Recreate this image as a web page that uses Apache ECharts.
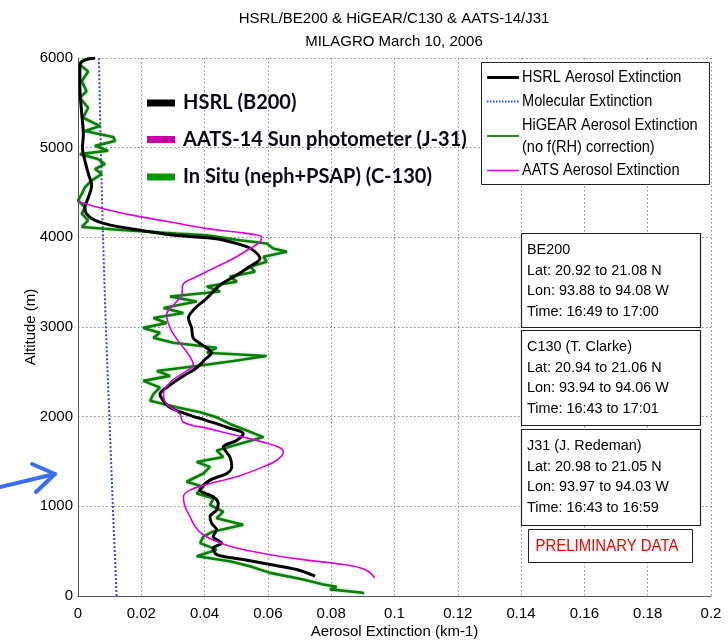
<!DOCTYPE html>
<html>
<head>
<meta charset="utf-8">
<script src="https://cdn.jsdelivr.net/npm/echarts@6/dist/echarts.min.js"></script>
<style>
html,body{margin:0;padding:0;background:#fff;}
#chart{width:728px;height:644px;}
</style>
</head>
<body>
<div id="chart"></div>
<script>
// ---------- data (extinction km-1, altitude m) ----------
const xTicks = [0, 0.02, 0.04, 0.06, 0.08, 0.1, 0.12, 0.14, 0.16, 0.18, 0.2];
const yTicks = [0, 1000, 2000, 3000, 4000, 5000, 6000];

const molAlt = [0, 1000, 2000, 3000, 4000, 5000, 6000];
const molExt = [0.0122, 0.0110, 0.0099, 0.0088, 0.0079, 0.0072, 0.0066];

const hsrlAlt = [6000, 5978, 5923, 5668, 5369, 5148, 5000, 4852, 4705, 4576, 4447, 4336, 4262, 4188, 4133, 4077, 4022,
  3985, 3897, 3842, 3764, 3675, 3579, 3469, 3321, 3210, 3100, 2989, 2878, 2804, 2712, 2638, 2546, 2454, 2325, 2251,
  2177, 2103, 2029, 1956, 1882, 1808, 1735, 1661, 1550, 1440, 1366, 1292, 1181, 1107, 1033, 960, 886, 812, 738, 664,
  590, 535, 461, 406, 351, 295, 221];
const hsrlExt = [0.0054, 0.0022, 0.0006, 0.0006, 0.0012, 0.0017, 0.0014, 0.0022, 0.0033, 0.0043, 0.0033, 0.0022, 0.0027,
  0.0054, 0.0106, 0.0201, 0.0306,
  0.0438, 0.0533, 0.0559, 0.0575, 0.0543, 0.0501, 0.0449, 0.0407, 0.0370, 0.0349, 0.0359, 0.0364, 0.0391, 0.0422,
  0.0401, 0.0375, 0.0333, 0.0280, 0.0259, 0.0270, 0.0291, 0.0343, 0.0407, 0.0470, 0.0522, 0.0501, 0.0459, 0.0480,
  0.0486, 0.0470, 0.0417, 0.0385, 0.0427, 0.0443, 0.0438, 0.0417, 0.0422, 0.0438, 0.0427, 0.0454, 0.0427, 0.0438,
  0.0522, 0.0607, 0.0691, 0.0749];

const aatsAlt = [4400, 4319, 4245, 4171, 4097, 4059, 4030, 4004, 3949, 3875, 3764, 3653, 3543, 3469, 3358, 3284, 3136,
  2989, 2842, 2694, 2583, 2510, 2399, 2251, 2140, 2029, 1938, 1864, 1790, 1716, 1661, 1606, 1514, 1440, 1329, 1255,
  1181, 1107, 997, 886, 775, 683, 609, 535, 461, 406, 351, 295, 203];
const aatsExt = [0.0, 0.0080, 0.0175, 0.0291, 0.0407, 0.0500, 0.0558, 0.0580, 0.0575, 0.0543, 0.0491, 0.0427, 0.0364,
  0.0331, 0.0328, 0.0312, 0.0280, 0.0291, 0.0317, 0.0349, 0.0364, 0.0343, 0.0296, 0.0270, 0.0280, 0.0322, 0.0333,
  0.0417, 0.0501, 0.0585, 0.0633, 0.0649, 0.0628, 0.0585, 0.0501, 0.0417, 0.0354, 0.0333, 0.0338, 0.0354, 0.0370,
  0.0396, 0.0438, 0.0501, 0.0607, 0.0712, 0.0838, 0.0907, 0.0938];

const gearAlt = [6000, 5960, 5925, 5850, 5740, 5630, 5556, 5445, 5334, 5241, 5186, 5120, 5075, 5020, 4965, 4928, 4873,
  4817, 4762, 4706, 4632, 4559, 4485, 4411, 4338, 4264, 4190, 4116, 4079, 4042,
  4024, 3968, 3931, 3876, 3839, 3784, 3728, 3673, 3617, 3562, 3506, 3451, 3396, 3340, 3285, 3211, 3156, 3100, 3045,
  2990, 2935, 2879, 2824, 2768, 2713, 2677, 2621, 2566, 2510, 2455, 2399, 2325, 2251, 2178, 2104, 2049, 1993, 1919,
  1845, 1772, 1698, 1624, 1550, 1495, 1440, 1366, 1274, 1218, 1144, 1089, 1015, 941, 867, 794, 720, 664, 590, 517,
  443, 388, 332, 258, 185, 129, 103, 74, 37, 20];
const gearExt = [0.0040, 0.0010, 0.0006, 0.0032, 0.0012, 0.0027, 0.0006, 0.0032, 0.0016, 0.0070, 0.0022, 0.0111,
  0.0117, 0.0054, 0.0095, 0.0006, 0.0063, 0.0085, 0.0054, 0.0075, 0.0043, 0.0022, 0.0012, 0.0000, 0.0022, 0.0012,
  0.0032, 0.0012, 0.0149, 0.0310,
  0.0407, 0.0512, 0.0596, 0.0617, 0.0660, 0.0586, 0.0596, 0.0544, 0.0559, 0.0480, 0.0502, 0.0407, 0.0449, 0.0291,
  0.0375, 0.0270, 0.0333, 0.0238, 0.0280, 0.0206, 0.0259, 0.0238, 0.0301, 0.0438, 0.0407, 0.0596, 0.0491, 0.0375,
  0.0249, 0.0291, 0.0206, 0.0259, 0.0238, 0.0228, 0.0312, 0.0386, 0.0438, 0.0480, 0.0533, 0.0586, 0.0512, 0.0438,
  0.0459, 0.0375, 0.0417, 0.0396, 0.0343, 0.0396, 0.0375, 0.0428, 0.0417, 0.0459, 0.0438, 0.0522, 0.0428, 0.0396,
  0.0386, 0.0438, 0.0375, 0.0480, 0.0543, 0.0607, 0.0712, 0.0775, 0.0817, 0.0796, 0.0901, 0.0900];

const titleLines = ['HSRL/BE200 & HiGEAR/C130 & AATS-14/J31', 'MILAGRO March 10, 2006'];
const legendNames = ['HSRL Aerosol Extinction', 'Molecular Extinction', 'HiGEAR Aerosol Extinction', '(no f(RH) correction)', 'AATS Aerosol Extinction'];
const overlayNames = ['HSRL (B200)', 'AATS-14 Sun photometer (J-31)', 'In Situ (neph+PSAP) (C-130)'];
const infoBoxes = [
  ['BE200', 'Lat: 20.92 to 21.08 N', 'Lon: 93.88 to 94.08 W', 'Time: 16:49 to 17:00'],
  ['C130 (T. Clarke)', 'Lat: 20.94 to 21.06 N', 'Lon: 93.94 to 94.06 W', 'Time: 16:43 to 17:01'],
  ['J31 (J. Redeman)', 'Lat: 20.98 to 21.05 N', 'Lon: 93.97 to 94.03 W', 'Time: 16:43 to 16:59']
];
const prelimText = 'PRELIMINARY DATA';

// ---------- build ----------
function zip(xs, ys) { return xs.map((x, i) => [x, ys[i]]); }
const SANS = "'Liberation Sans',Arial,sans-serif";
const CAL = "Lato,'Open Sans',sans-serif";

const graphic = [];
// title
titleLines.forEach((t, i) => graphic.push({type:'text', x: 394, y: 18.5 + i * 23,
  style:{text:t, font:'15px ' + SANS, fill:'#000', textAlign:'center', textVerticalAlign:'middle'}}));

// MATLAB legend box
graphic.push({type:'rect', shape:{x:481.5, y:62.5, width:228, height:122}, style:{fill:'#fff', stroke:'#222', lineWidth:1}, z:10});
const legRows = [
  {y:77.5, color:'#000', width:3, dash:null, text:[legendNames[0]], ty:[77.5]},
  {y:101.5, color:'#3344ff', width:2, dash:[1.5,1.5], text:[legendNames[1]], ty:[101.5]},
  {y:136, color:'#2a8a2a', width:2, dash:null, text:[legendNames[2], legendNames[3]], ty:[126, 148]},
  {y:170.5, color:'#dd00dd', width:1.5, dash:null, text:[legendNames[4]], ty:[170.5]}
];
legRows.forEach(r => {
  graphic.push({type:'line', shape:{x1:487, y1:r.y, x2:519, y2:r.y}, style:{stroke:r.color, lineWidth:r.width, lineDash:r.dash}, z:11});
  r.text.forEach((t, i) => graphic.push({type:'text', x:522, y:r.ty[i], z:11, scaleX:0.91,
    style:{text:t, font:'16px ' + SANS, fill:'#000', textVerticalAlign:'middle'}}));
});

// info boxes
const boxTops = [233, 330, 429];
const boxHeights = [94, 95, 96];
infoBoxes.forEach((lines, b) => {
  graphic.push({type:'rect', shape:{x:521.5, y:boxTops[b] + 0.5, width:179, height:boxHeights[b]},
    style:{fill:'#fff', stroke:'#222', lineWidth:1.2}, z:10});
  lines.forEach((t, i) => graphic.push({type:'text', x:527, y:boxTops[b] + 17 + i * 20.5, z:11, scaleX:0.93,
    style:{text:t, font:'15.5px ' + SANS, fill:'#000', textVerticalAlign:'middle'}}));
});
graphic.push({type:'rect', shape:{x:528.5, y:529.5, width:164, height:33}, style:{fill:'#fff', stroke:'#222', lineWidth:1}, z:10});
graphic.push({type:'text', x:607, y:546, z:11, scaleX:0.88, style:{text:prelimText, font:'17px ' + SANS, fill:'#ff0000', textAlign:'center', textVerticalAlign:'middle'}});

// overlay legend (slide annotation)
const ovColors = ['#000000', '#cc00aa', '#009900'];
const ovY = [103, 139.5, 177];
overlayNames.forEach((t, i) => {
  graphic.push({type:'line', shape:{x1:147, y1:ovY[i], x2:175, y2:ovY[i]}, style:{stroke:ovColors[i], lineWidth:7}, z:12});
  graphic.push({type:'text', x:183, y:ovY[i], z:12, style:{text:t, font:'bold 20px ' + CAL, fill:'#0a0a14', textVerticalAlign:'middle'}});
});

// blue arrow annotation
graphic.push({type:'polyline', shape:{points:[[0,487],[55,474]]}, style:{stroke:'#3a6df0', lineWidth:4, lineCap:'round'}, z:12});
graphic.push({type:'polyline', shape:{points:[[32,464],[55,474],[36,492]]}, style:{stroke:'#3a6df0', lineWidth:4, lineCap:'round', lineJoin:'round', fill:null}, z:12});

const gridLine = {show:true, lineStyle:{color:'#8a8a8a', width:1, type:[1.5,2.5]}};

const option = {
  animation:false,
  backgroundColor:'#fff',
  grid:{left:78, right:17, top:58, bottom:44, containLabel:false},
  xAxis:{type:'value', min:0, max:0.2, interval:0.02,
    name:'Aerosol Extinction (km-1)', nameLocation:'middle', nameGap:28, nameMoveOverlap:false,
    nameTextStyle:{fontFamily:SANS, fontSize:15, color:'#000'},
    axisLine:{show:true, onZero:false, lineStyle:{color:'#555', width:1}},
    axisTick:{show:false},
    axisLabel:{fontFamily:SANS, fontSize:15, color:'#000', margin:10,
      formatter: v => String(+v.toFixed(2))},
    splitLine:gridLine},
  yAxis:{type:'value', min:0, max:6000, interval:1000,
    name:'Altitude (m)', nameLocation:'middle', nameGap:40, nameRotate:90, nameMoveOverlap:false,
    nameTextStyle:{fontFamily:SANS, fontSize:15, color:'#000'},
    axisLine:{show:true, onZero:false, lineStyle:{color:'#555', width:1}},
    axisTick:{show:false},
    axisLabel:{fontFamily:SANS, fontSize:15, color:'#000', margin:5,
      formatter: v => String(v)},
    splitLine:gridLine},
  series:[
    {name:'Molecular Extinction', type:'line', data:zip(molExt, molAlt), symbol:'none', smooth:false,
      lineStyle:{color:'#3344ff', width:2, type:[2,2]}, clip:true, z:2},
    {name:'HiGEAR Aerosol Extinction', type:'line', data:zip(gearExt, gearAlt), symbol:'none',
      lineStyle:{color:'#0b7d0b', width:2.6, shadowColor:'rgba(60,170,60,0.5)', shadowBlur:3}, clip:true, z:3},
    {name:'HSRL Aerosol Extinction', type:'line', data:zip(hsrlExt, hsrlAlt), symbol:'none', smooth:0.3,
      lineStyle:{color:'#000', width:3}, clip:true, z:4},
    {name:'AATS Aerosol Extinction', type:'line', data:zip(aatsExt, aatsAlt), symbol:'none', smooth:0.4,
      lineStyle:{color:'#dd00dd', width:1.6}, clip:true, z:5}
  ],
  graphic:graphic
};
const chart = echarts.init(document.getElementById('chart'), null, {renderer:'canvas'});
chart.setOption(option);
</script>
</body>
</html>
